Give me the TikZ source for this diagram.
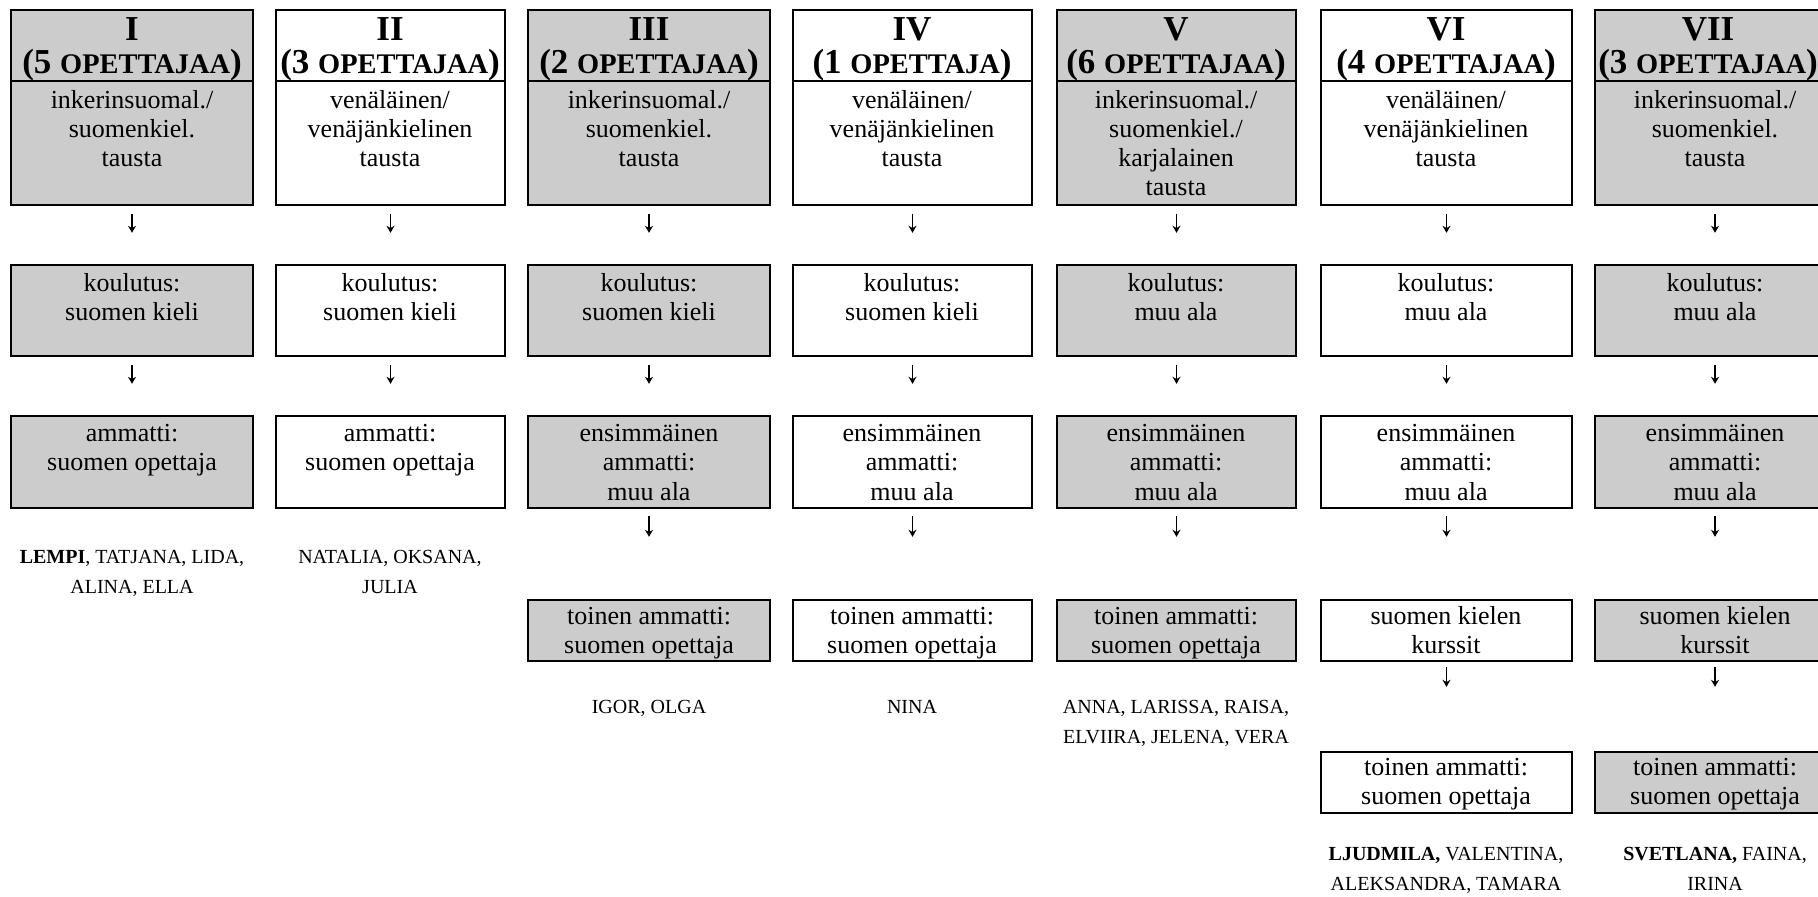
\documentclass[tikz,border=0pt]{standalone}
\usepackage{fontspec}
\setmainfont{Liberation Serif}
\usetikzlibrary{fit,arrows.meta}
\definecolor{boxgray}{RGB}{204,204,204}
\newcommand\fsc[1]{{\fontsize{14.2}{16}\selectfont #1}}
\tikzset{
  bx/.style={draw, line width=1.2pt, inner sep=0pt},
  shd/.style={fill=boxgray},
  hdrline/.style={line width=0.9pt},
  tx/.style={align=center, inner sep=0pt, anchor=base, font=\fontsize{13}{14.5}\selectfont},
  num/.style={inner sep=0pt, anchor=base, font=\fontsize{17.5}{19}\selectfont\bfseries},
  nm/.style={align=center, inner sep=0pt, anchor=base, font=\fontsize{10}{15}\selectfont},
  arr/.style={line width=0.6pt, -{Stealth[length=3.5pt,width=4pt]}},
  a1/.style={arr, shorten <=4pt, shorten >=15.5pt},
  a3/.style={arr, shorten <=3.5pt, shorten >=31pt},
  a4/.style={arr, shorten <=2.5pt, shorten >=32pt},
}
\newcommand\hdiv[1]{\draw[hdrline] ([yshift=-36pt]#1.north west) -- ([yshift=-36pt]#1.north east);}
\begin{document}
\begin{tikzpicture}[x=0.5pt,y=-0.5pt]
\useasboundingbox (0,0) rectangle (1818,897);
\clip (0,0) rectangle (1818,897);
% ---------- I
\node[bx,shd,fit={(11,10)(253,205)}] (h1) {};
\hdiv{h1}
\node[num] (h1a) at (132,41) {I};
\node[num] (h1b) at (132,74) {(5 \fsc{OPETTAJAA})};
\node[tx] (h1c) at (132,167) {inkerinsuomal./\\suomenkiel.\\tausta};
\node[bx,shd,fit={(11,265)(253,356)}] (k1) {};
\node[tx] (k1t) at (132,321) {koulutus:\\suomen kieli};
\node[bx,shd,fit={(11,416)(253,508)}] (m1) {};
\node[tx] (m1t) at (132,471) {ammatti:\\suomen opettaja};
\node[nm] (n1) at (132,593) {\textbf{LEMPI}, TATJANA, LIDA,\\ALINA, ELLA};
\draw[a1] (h1.south) -- (k1.north);
\draw[a1] (k1.south) -- (m1.north);
% ---------- II
\node[bx,fit={(276,10)(505,205)}] (h2) {};
\hdiv{h2}
\node[num] (h2a) at (390,41) {II};
\node[num] (h2b) at (390,74) {(3 \fsc{OPETTAJAA})};
\node[tx] (h2c) at (390,167) {venäläinen/\\venäjänkielinen\\tausta};
\node[bx,fit={(276,265)(505,356)}] (k2) {};
\node[tx] (k2t) at (390,321) {koulutus:\\suomen kieli};
\node[bx,fit={(276,416)(505,508)}] (m2) {};
\node[tx] (m2t) at (390,471) {ammatti:\\suomen opettaja};
\node[nm] (n2) at (390,593) {NATALIA, OKSANA,\\JULIA};
\draw[a1] (h2.south) -- (k2.north);
\draw[a1] (k2.south) -- (m2.north);
% ---------- III
\node[bx,shd,fit={(528,10)(770,205)}] (h3) {};
\hdiv{h3}
\node[num] (h3a) at (649,41) {III};
\node[num] (h3b) at (649,74) {(2 \fsc{OPETTAJAA})};
\node[tx] (h3c) at (649,167) {inkerinsuomal./\\suomenkiel.\\tausta};
\node[bx,shd,fit={(528,265)(770,356)}] (k3) {};
\node[tx] (k3t) at (649,321) {koulutus:\\suomen kieli};
\node[bx,shd,fit={(528,416)(770,508)}] (m3) {};
\node[tx] (m3t) at (649,500) {ensimmäinen\\ammatti:\\muu ala};
\node[bx,shd,fit={(528,600)(770,661)}] (t3) {};
\node[tx] (t3t) at (649,653) {toinen ammatti:\\suomen opettaja};
\node[nm] (n3) at (649,713) {IGOR, OLGA};
\draw[a1] (h3.south) -- (k3.north);
\draw[a1] (k3.south) -- (m3.north);
\draw[a3] (m3.south) -- (t3.north);
% ---------- IV
\node[bx,fit={(793,10)(1032,205)}] (h4) {};
\hdiv{h4}
\node[num] (h4a) at (912,41) {IV};
\node[num] (h4b) at (912,74) {(1 \fsc{OPETTAJA})};
\node[tx] (h4c) at (912,167) {venäläinen/\\venäjänkielinen\\tausta};
\node[bx,fit={(793,265)(1032,356)}] (k4) {};
\node[tx] (k4t) at (912,321) {koulutus:\\suomen kieli};
\node[bx,fit={(793,416)(1032,508)}] (m4) {};
\node[tx] (m4t) at (912,500) {ensimmäinen\\ammatti:\\muu ala};
\node[bx,fit={(793,600)(1032,661)}] (t4) {};
\node[tx] (t4t) at (912,653) {toinen ammatti:\\suomen opettaja};
\node[nm] (n4) at (912,713) {NINA};
\draw[a1] (h4.south) -- (k4.north);
\draw[a1] (k4.south) -- (m4.north);
\draw[a3] (m4.south) -- (t4.north);
% ---------- V
\node[bx,shd,fit={(1057,10)(1296,205)}] (h5) {};
\hdiv{h5}
\node[num] (h5a) at (1176,41) {V};
\node[num] (h5b) at (1176,74) {(6 \fsc{OPETTAJAA})};
\node[tx] (h5c) at (1176,196) {inkerinsuomal./\\suomenkiel./\\karjalainen\\tausta};
\node[bx,shd,fit={(1057,265)(1296,356)}] (k5) {};
\node[tx] (k5t) at (1176,321) {koulutus:\\muu ala};
\node[bx,shd,fit={(1057,416)(1296,508)}] (m5) {};
\node[tx] (m5t) at (1176,500) {ensimmäinen\\ammatti:\\muu ala};
\node[bx,shd,fit={(1057,600)(1296,661)}] (t5) {};
\node[tx] (t5t) at (1176,653) {toinen ammatti:\\suomen opettaja};
\node[nm] (n5) at (1176,743) {ANNA, LARISSA, RAISA,\\ELVIIRA, JELENA, VERA};
\draw[a1] (h5.south) -- (k5.north);
\draw[a1] (k5.south) -- (m5.north);
\draw[a3] (m5.south) -- (t5.north);
% ---------- VI
\node[bx,fit={(1321,10)(1572,205)}] (h6) {};
\hdiv{h6}
\node[num] (h6a) at (1446,41) {VI};
\node[num] (h6b) at (1446,74) {(4 \fsc{OPETTAJAA})};
\node[tx] (h6c) at (1446,167) {venäläinen/\\venäjänkielinen\\tausta};
\node[bx,fit={(1321,265)(1572,356)}] (k6) {};
\node[tx] (k6t) at (1446,321) {koulutus:\\muu ala};
\node[bx,fit={(1321,416)(1572,508)}] (m6) {};
\node[tx] (m6t) at (1446,500) {ensimmäinen\\ammatti:\\muu ala};
\node[bx,fit={(1321,600)(1572,661)}] (c6) {};
\node[tx] (c6t) at (1446,653) {suomen kielen\\kurssit};
\node[bx,fit={(1321,752)(1572,813)}] (t6) {};
\node[tx] (t6t) at (1446,804) {toinen ammatti:\\suomen opettaja};
\node[nm] (n6) at (1446,890) {\textbf{LJUDMILA,} VALENTINA,\\ALEKSANDRA, TAMARA};
\draw[a1] (h6.south) -- (k6.north);
\draw[a1] (k6.south) -- (m6.north);
\draw[a3] (m6.south) -- (c6.north);
\draw[a4] (c6.south) -- (t6.north);
% ---------- VII
\node[bx,shd,fit={(1595,10)(1835,205)}] (h7) {};
\hdiv{h7}
\node[num] (h7a) at (1708,41) {VII};
\node[num] (h7b) at (1708,74) {(3 \fsc{OPETTAJAA})};
\node[tx] (h7c) at (1715,167) {inkerinsuomal./\\suomenkiel.\\tausta};
\node[bx,shd,fit={(1595,265)(1835,356)}] (k7) {};
\node[tx] (k7t) at (1715,321) {koulutus:\\muu ala};
\node[bx,shd,fit={(1595,416)(1835,508)}] (m7) {};
\node[tx] (m7t) at (1715,500) {ensimmäinen\\ammatti:\\muu ala};
\node[bx,shd,fit={(1595,600)(1835,661)}] (c7) {};
\node[tx] (c7t) at (1715,653) {suomen kielen\\kurssit};
\node[bx,shd,fit={(1595,752)(1835,813)}] (t7) {};
\node[tx] (t7t) at (1715,804) {toinen ammatti:\\suomen opettaja};
\node[nm] (n7) at (1715,890) {\textbf{SVETLANA,} FAINA,\\IRINA};
\draw[a1] (h7.south) -- (k7.north);
\draw[a1] (k7.south) -- (m7.north);
\draw[a3] (m7.south) -- (c7.north);
\draw[a4] (c7.south) -- (t7.north);
\end{tikzpicture}
\end{document}
